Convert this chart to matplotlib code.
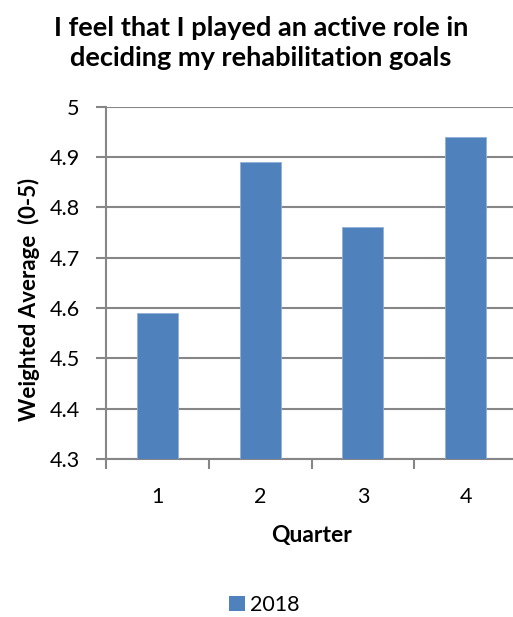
import matplotlib
matplotlib.use("Agg")
import matplotlib.pyplot as plt
from matplotlib.patches import Patch

# data
quarters = ["1", "2", "3", "4"]
scores_2018 = [4.59, 4.89, 4.76, 4.94]
y_ticks = [4.3, 4.4, 4.5, 4.6, 4.7, 4.8, 4.9, 5.0]
y_tick_labels = ["4.3", "4.4", "4.5", "4.6", "4.7", "4.8", "4.9", "5"]
series_name = "2018"

bar_color = "#4F81BD"
grid_color = "#868686"

plt.rcParams['font.family'] = ['Lato', 'DejaVu Sans']

fig = plt.figure(figsize=(5.13, 6.17), dpi=100)
W, H = 513, 617
left, right, top, bottom = 106, 517, 106.7, 459
ax = fig.add_axes([left / W, 1 - bottom / H, (right - left) / W, (bottom - top) / H])

x = list(range(1, len(quarters) + 1))
ax.bar(x, scores_2018, width=0.4, color=bar_color, edgecolor="#8FB0D8", linewidth=0.6, zorder=3)

ax.set_xlim(0.5, 4.5)
ax.set_ylim(4.3, 5.0)
ax.set_yticks(y_ticks)
ax.set_yticklabels(y_tick_labels)
ax.set_xticks(x)
ax.set_xticklabels(quarters)
ax.set_xticks([0.5, 1.5, 2.5, 3.5, 4.5], minor=True)
ax.tick_params(axis='x', which='major', length=0, pad=20, labelsize=15.5)
ax.tick_params(axis='x', which='minor', length=7, width=1.5, color=grid_color)
ax.tick_params(axis='y', length=7, width=1.5, color=grid_color, pad=12, labelsize=15.5)

ax.yaxis.grid(True, color=grid_color, linewidth=1.5, zorder=0)
ax.set_axisbelow(True)
for s in ['top', 'right']:
    ax.spines[s].set_visible(False)
for s in ['left', 'bottom']:
    ax.spines[s].set_color(grid_color)
    ax.spines[s].set_linewidth(1.5)

ax.set_xlabel("Quarter", fontsize=16.5, fontweight='bold')
ax.xaxis.set_label_coords(0.5, -(525 - 459) / (bottom - top))
ax.set_ylabel("Weighted Average  (0-5)", fontsize=16, fontweight='bold')
ax.yaxis.set_label_coords(-(106 - 40) / (right - left), 0.452)

fig.text(0.509, 1 - 43 / H, "I feel that I played an active role in\ndeciding my rehabilitation goals",
         ha='center', va='center', fontsize=19.5, fontweight='bold', linespacing=1.35)

handles = [Patch(facecolor=bar_color, label=series_name)]
fig.legend(handles=handles, loc='center', bbox_to_anchor=(0.515, 1 - 605 / H), frameon=False,
           fontsize=15.5, handlelength=0.75, handleheight=0.75, handletextpad=0.2)

fig.savefig("out.png", dpi=100)
